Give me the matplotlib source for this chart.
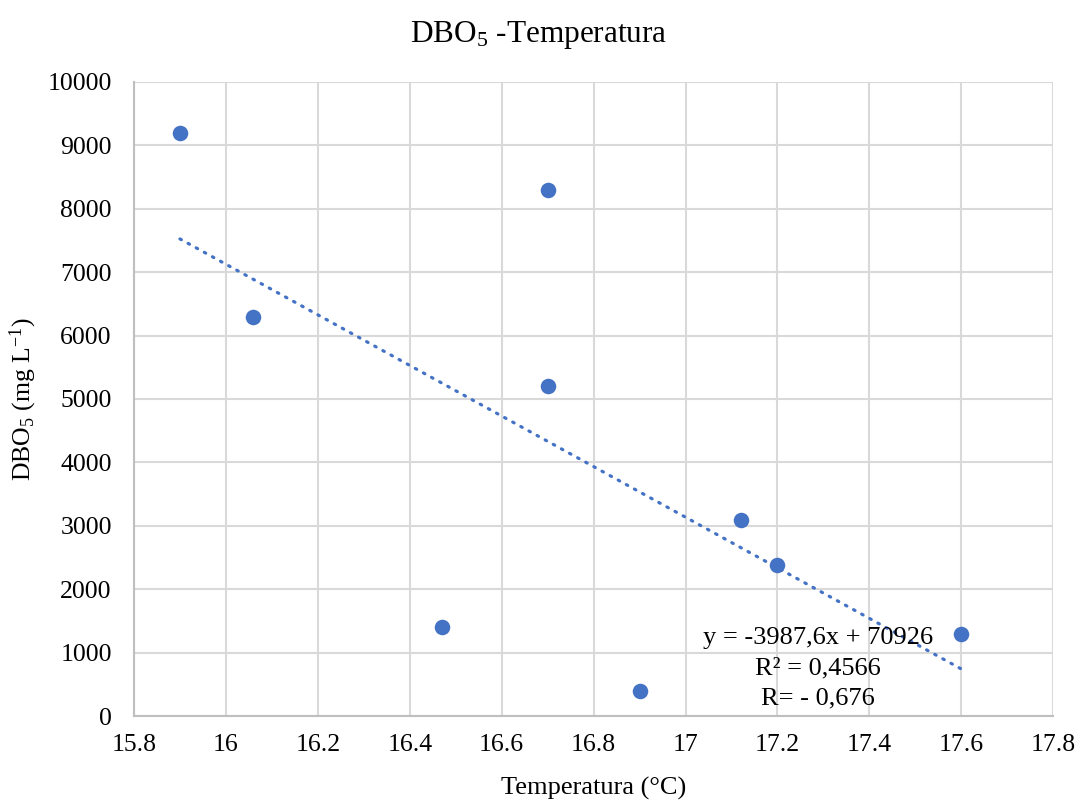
import numpy as np
import matplotlib
matplotlib.use("Agg")
from matplotlib import pyplot as plt
from matplotlib.ticker import FuncFormatter

plt.rcParams['font.family'] = ['Liberation Serif', 'DejaVu Serif']
plt.rcParams['mathtext.fontset'] = 'custom'
plt.rcParams['mathtext.rm'] = 'Liberation Serif'
plt.rcParams['mathtext.it'] = 'Liberation Serif:italic'

# data
temperatura = [15.9, 16.06, 16.47, 16.7, 16.7, 16.9, 17.12, 17.2, 17.6]
dbo5 = [9200, 6300, 1400, 8300, 5200, 400, 3100, 2380, 1300]

# trend line from the chart label
slope = -3987.6
intercept = 70926
eq_lines = ["y = -3987,6x + 70926", "R² = 0,4566", "R= - 0,676"]

blue = '#4472C4'
grid = '#D9D9D9'

fig = plt.figure(figsize=(10.78, 8.02), dpi=100)
ax = fig.add_axes([0.1243, 0.107, 0.8527, 0.791])

xs = np.array([min(temperatura), max(temperatura)])
ax.plot(xs, slope * xs + intercept, color=blue, lw=2.3, linestyle=(0, (0.5, 2.4)),
        dash_capstyle='round', zorder=2)
ax.scatter(temperatura, dbo5, s=125, color=blue, zorder=3, linewidths=0)

ax.set_xlim(15.8, 17.8)
ax.set_ylim(0, 10000)
ax.set_xticks(np.arange(15.8, 17.81, 0.2))
ax.set_yticks(np.arange(0, 10001, 1000))
ax.xaxis.set_major_formatter(FuncFormatter(lambda v, p: '%g' % round(v, 1)))
ax.grid(True, color=grid, lw=1.5, zorder=0)
ax.set_axisbelow(True)
for s in ['top', 'right']:
    ax.spines[s].set_visible(False)
for s in ['left', 'bottom']:
    ax.spines[s].set_color('#BFBFBF')
    ax.spines[s].set_linewidth(1.5)
ax.tick_params(length=0, labelsize=18.5, colors='black')
ax.tick_params(axis='y', pad=16)
ax.tick_params(axis='x', pad=13)

ax.set_xlabel('Temperatura (°C)', fontsize=19, labelpad=15)
ax.set_ylabel(r'DBO$_\mathregular{5}$ (mg L$^\mathregular{-1}$)', fontsize=18.5, labelpad=6)
fig.text(0.5, 0.956, r'DBO$_\mathregular{5}$ -Temperatura', fontsize=22.5,
         ha='center', va='center')

for i, line in enumerate(eq_lines):
    ax.text(17.289, 10000 * (716 - 638 - 30 * i) / 634.3, line, fontsize=19,
            ha='center', va='center')

fig.savefig('out.png', dpi=100)
